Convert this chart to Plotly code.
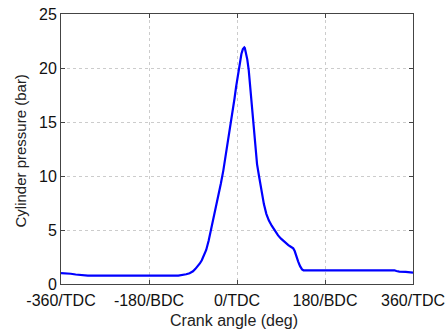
import plotly.graph_objects as go

crank_deg = [-360, -348, -340, -330, -318, -305, -120, -112, -104, -97, -90, -85, -80, -76,
             -72, -67, -63, -58, -53, -49, -45, -41, -38, -33, -28, -24, -20, -16, -12,
             -8, -5, -2, 0, 3, 6, 9, 12, 14, 15, 16, 18, 21, 24, 26, 28, 30, 32, 35, 38,
             41, 45, 50, 55, 60, 65, 71, 78, 84, 90, 97, 105, 110, 115, 118, 121, 125,
             129, 133, 136, 322, 326, 332, 345, 360]
pressure_bar = [1.0, 1.0, 0.95, 0.88, 0.8, 0.78, 0.78, 0.82, 0.9, 1.0, 1.18, 1.4, 1.65, 1.9,
                2.2, 2.65, 3.15, 4.0, 5.0, 5.8, 6.6, 7.4, 8.1, 9.3, 10.5, 11.6, 12.8, 13.9,
                15.0, 16.2, 17.2, 18.2, 18.8, 19.7, 20.6, 21.3, 21.75, 21.9, 21.9, 21.85,
                21.5, 20.8, 19.8, 18.8, 17.6, 16.4, 15.2, 13.6, 12.2, 11.1, 10.0, 8.6, 7.4,
                6.5, 5.9, 5.4, 4.9, 4.5, 4.2, 3.9, 3.6, 3.45, 3.3, 3.05, 2.6, 2.1, 1.65, 1.35,
                1.27, 1.27, 1.2, 1.15, 1.12, 1.05]

x_tickvals = [-360, -180, 0, 180, 360]
x_ticktext = ["-360/TDC", "-180/BDC", "0/TDC", "180/BDC", "360/TDC"]
y_tickvals = [0, 5, 10, 15, 20, 25]
x_title = "Crank angle (deg)"
y_title = "Cylinder pressure (bar)"

FONT = "Liberation Sans, Arial"

fig = go.Figure()
fig.add_trace(go.Scatter(x=crank_deg, y=pressure_bar, mode="lines",
                         line=dict(color="#0000ff", width=2.2)))

axis_common = dict(
    showline=True, mirror="ticks", linecolor="#444", linewidth=1,
    ticks="inside", ticklen=4, tickcolor="#444",
    showgrid=True, gridcolor="#cccccc", griddash="dot", gridwidth=1,
    zeroline=False, automargin=False,
    tickfont=dict(family=FONT, size=16, color="#111"),
)

fig.update_xaxes(range=[-360, 360], tickvals=x_tickvals, ticktext=x_ticktext,
                 ticklabelstandoff=2, **axis_common)
fig.update_yaxes(range=[0, 25], tickvals=y_tickvals, **axis_common)

fig.add_annotation(text=x_title, xref="paper", yref="paper", x=0.4915, y=-0.137,
                   xanchor="center", yanchor="middle", showarrow=False,
                   font=dict(family=FONT, size=16, color="#222"))
fig.add_annotation(text=y_title, xref="paper", yref="paper", x=-0.115, y=0.4926,
                   xanchor="center", yanchor="middle", showarrow=False, textangle=-90,
                   font=dict(family=FONT, size=15, color="#222"))

fig.update_layout(width=446, height=334, margin=dict(l=61, r=33, t=14, b=50),
                  paper_bgcolor="white", plot_bgcolor="white", showlegend=False)

fig.write_html("out.html", config={"displayModeBar": False},
               post_script="document.body.style.margin='0';document.body.style.overflow='hidden';")
